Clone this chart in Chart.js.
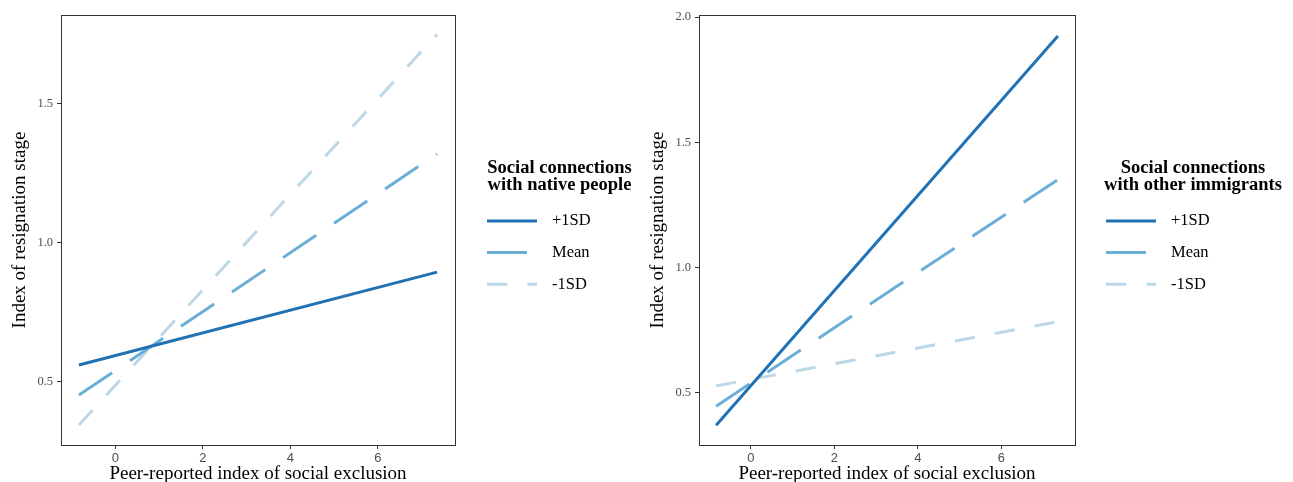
<!DOCTYPE html>
<html>
<head>
<meta charset="utf-8">
<script src="https://cdn.jsdelivr.net/npm/chart.js@4"></script>
<style>
  body { margin: 0; background: #fff; }
  .wrap { position: relative; width: 1293px; height: 482px; }
  canvas { position: absolute; top: 0; }
  #nativeChart { left: 0; }
  #immigrantChart { left: 638px; }
</style>
</head>
<body>
<div class="wrap">
  <canvas id="nativeChart" width="646" height="482"></canvas>
  <canvas id="immigrantChart" width="655" height="482"></canvas>
</div>
<script>
// predicted lines, end points at the min / max of the exclusion index
const xValues = [-0.83, 7.35];
const nativeHigh = [0.561, 0.895];
const nativeMean = [0.453, 1.32];
const nativeLow = [0.345, 1.75];
const immigrantHigh = [0.371, 1.924];
const immigrantMean = [0.447, 1.351];
const immigrantLow = [0.528, 0.784];

const seriesLabels = ["+1SD", "Mean", "-1SD"];
const xTicks = [0, 2, 4, 6];
const nativeYTicks = [0.5, 1.0, 1.5];
const immigrantYTicks = [0.5, 1.0, 1.5, 2.0];

const serif = '"Liberation Serif", "Times New Roman", serif';
const colors = ["#2171b5", "#6baed6", "#bdd7e7"];
const dashes = [[], [40, 21.5], [20.25, 20.25]];

const toPoints = ys => ys.map((y, i) => ({ x: xValues[i], y: y }));

function makeDatasets(series) {
  return series.map((ys, i) => ({
    label: seriesLabels[i],
    data: toPoints(ys),
    borderColor: colors[i],
    borderWidth: 3,
    borderDash: dashes[i],
    borderCapStyle: "butt",
    pointRadius: 0,
    fill: false
  }));
}

const panelBox = {
  id: "panelBox",
  afterDatasetsDraw(chart) {
    const a = chart.chartArea;
    const ctx = chart.ctx;
    ctx.save();
    ctx.strokeStyle = "#333";
    ctx.lineWidth = 1;
    ctx.strokeRect(Math.round(a.left) + 0.5, Math.round(a.top) + 0.5,
      Math.round(a.right - a.left), Math.round(a.bottom - a.top));
    ctx.restore();
  }
};

const sideLegend = {
  id: "sideLegend",
  afterDraw(chart, args, opts) {
    const ctx = chart.ctx;
    ctx.save();
    ctx.fillStyle = "#000";
    ctx.textBaseline = "middle";
    ctx.textAlign = "center";
    ctx.font = "bold 18.5px " + serif;
    opts.title.forEach((line, i) => {
      ctx.fillText(line, opts.titleX, opts.titleY + i * 17.5);
    });
    chart.data.datasets.forEach((ds, i) => {
      const y = opts.itemY + i * 31.6;
      ctx.strokeStyle = ds.borderColor;
      ctx.lineWidth = ds.borderWidth;
      ctx.setLineDash(ds.borderDash);
      ctx.beginPath();
      ctx.moveTo(opts.lineX, y);
      ctx.lineTo(opts.lineX + 50, y);
      ctx.stroke();
      ctx.setLineDash([]);
      ctx.textAlign = "left";
      ctx.font = "16.5px " + serif;
      ctx.fillText(ds.label, opts.lineX + 65, y);
    });
    ctx.restore();
  }
};

function makeChart(id, series, yMin, yMax, yTicks, rightPad, legend) {
  new Chart(document.getElementById(id), {
    type: "line",
    data: { datasets: makeDatasets(series) },
    options: {
      responsive: false,
      animation: false,
      devicePixelRatio: 1,
      layout: { padding: { left: 0, top: 15, right: rightPad, bottom: 0 } },
      plugins: {
        legend: { display: false },
        tooltip: { enabled: false },
        sideLegend: legend
      },
      scales: {
        x: {
          type: "linear",
          min: -1.24,
          max: 7.76,
          afterBuildTicks: s => { s.ticks = xTicks.map(v => ({ value: v })); },
          afterFit: s => { s.height = 37; },
          border: { display: false },
          grid: { drawOnChartArea: false, drawTicks: true, tickLength: 4, color: "#333" },
          ticks: {
            padding: 2,
            color: "#4d4d4d",
            font: { family: '"Liberation Sans", Arial, sans-serif', size: 13 },
            callback: v => String(v)
          },
          title: {
            display: true,
            text: "Peer-reported index of social exclusion",
            color: "#000",
            font: { family: serif, size: 19, lineHeight: 1 },
            padding: { top: 0, bottom: -2 }
          }
        },
        y: {
          min: yMin,
          max: yMax,
          afterBuildTicks: s => { s.ticks = yTicks.map(v => ({ value: v })); },
          afterFit: s => { s.width = 61; },
          border: { display: false },
          grid: { drawOnChartArea: false, drawTicks: true, tickLength: 4, color: "#333" },
          ticks: {
            padding: 4,
            color: "#4d4d4d",
            font: { family: serif, size: 12.5 },
            callback: v => v.toFixed(1)
          },
          title: {
            display: true,
            text: "Index of resignation stage",
            color: "#000",
            font: { family: serif, size: 19, lineHeight: 1 },
            padding: { top: 11, bottom: 0 }
          }
        }
      }
    },
    plugins: [panelBox, sideLegend]
  });
}

makeChart("nativeChart", [nativeHigh, nativeMean, nativeLow], 0.273, 1.82, nativeYTicks, 191, {
  title: ["Social connections", "with native people"],
  titleX: 559.5, titleY: 168, itemY: 221, lineX: 487
});

makeChart("immigrantChart", [immigrantHigh, immigrantMean, immigrantLow], 0.292, 2.008, immigrantYTicks, 218, {
  title: ["Social connections", "with other immigrants"],
  titleX: 555, titleY: 168, itemY: 221, lineX: 468
});
</script>
</body>
</html>
